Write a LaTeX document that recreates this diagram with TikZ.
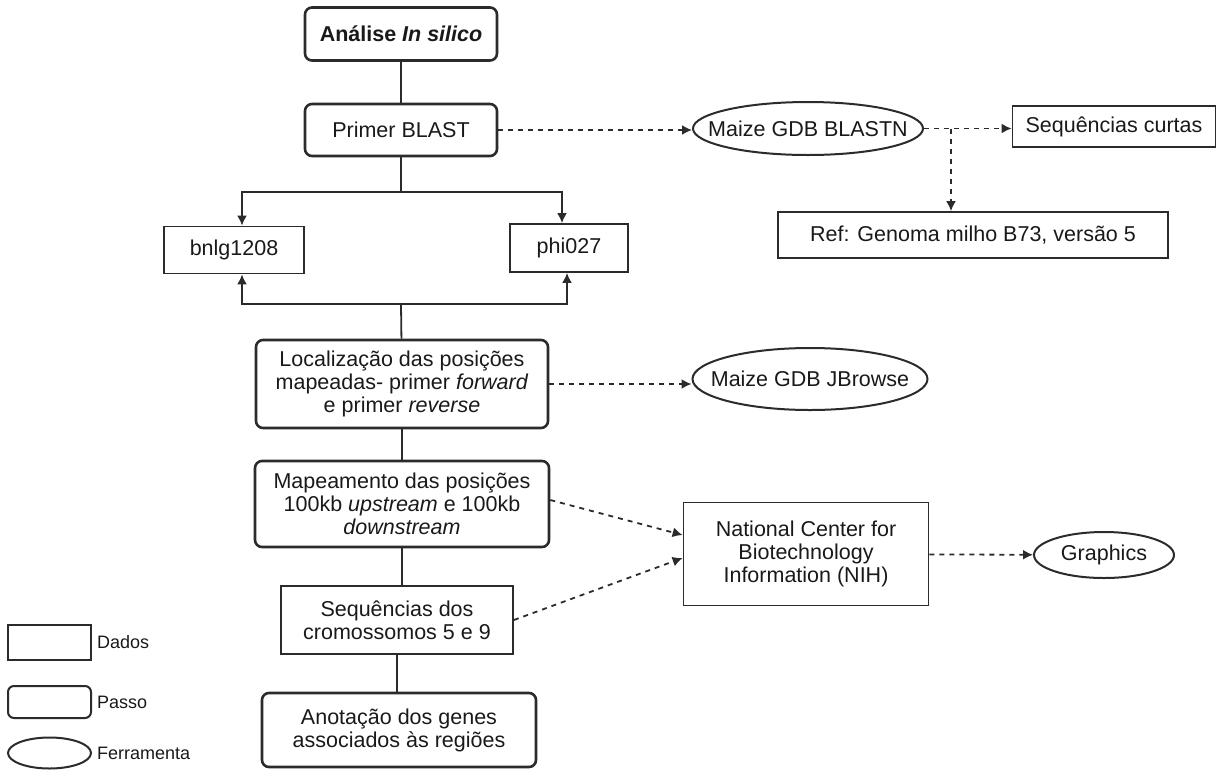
\documentclass[tikz,border=0pt]{standalone}
\usepackage{fontspec}
\setmainfont{Liberation Sans}
\usetikzlibrary{shapes.geometric,arrows.meta}
\definecolor{linha}{HTML}{2B2B2B}
\newcommand{\rotulo}[1]{\makebox[0pt]{#1}}
\tikzset{
  dados/.style={draw=linha, line width=1.8pt, inner sep=0pt, align=center},
  passo/.style={dados, rounded corners=7pt, line width=2.6pt},
  ferramenta/.style={ellipse, draw=linha, line width=2pt, inner sep=0pt, align=center},
  liga/.style={draw=linha, line width=1.8pt},
  seta/.style={liga, -{Latex[length=10pt,width=10pt]}},
  tracejada/.style={seta, dash pattern=on 5pt off 5pt},
  legenda/.style={anchor=west, inner sep=0pt, font=\fontsize{18}{20}\selectfont},
}
\begin{document}
\begin{tikzpicture}[x=1pt,y=-1pt,font=\fontsize{21.5}{23}\selectfont,text=black!90]
\useasboundingbox (0,0) rectangle (1219,769);

\node[passo, minimum width=192pt, minimum height=53pt] (analise) at (401,34) {\textbf{Análise \textit{In silico}}};
\node[passo, minimum width=192pt, minimum height=52pt] (primer) at (401,130) {Primer BLAST};
\node[dados, minimum width=140pt, minimum height=47pt] (bnlg) at (234,250) {bnlg1208};
\node[dados, minimum width=118pt, minimum height=48pt] (phi) at (569,248) {phi027};
\node[passo, minimum width=292pt, minimum height=88pt] (local) at (402,384)
  {Localização das posições\\mapeadas- primer \textit{forward}\\e primer \textit{reverse}};
\node[passo, minimum width=294pt, minimum height=86pt] (mapea) at (402,504)
  {Mapeamento das posições\\100kb \textit{upstream} e 100kb\\\textit{downstream}};
\node[dados, minimum width=232pt, minimum height=68pt] (seqcrom) at (397,620)
  {Sequências dos\\cromossomos 5 e 9};
\node[passo, minimum width=274pt, minimum height=74pt] (anota) at (399,730)
  {Anotação dos genes\\associados às regiões};

% ferramentas e dados externos
\node[ferramenta, minimum width=230pt, minimum height=53pt] (blastn) at (808,128.5) {\rotulo{Maize GDB BLASTN}};
\node[dados, minimum width=203pt, minimum height=41pt] (curtas) at (1114,126.5) {Sequências curtas};
\node[dados, minimum width=390pt, minimum height=46pt] (ref) at (973,235) {Ref: Genoma milho B73, versão 5};
\node[ferramenta, minimum width=235pt, minimum height=62pt] (jbrowse) at (810,379) {\rotulo{Maize GDB JBrowse}};
\node[dados, minimum width=245pt, minimum height=103pt] (ncbi) at (806,554)
  {National Center for\\Biotechnology\\Information (NIH)};
\node[ferramenta, minimum width=140pt, minimum height=46pt] (graphics) at (1104,555) {\rotulo{Graphics}};

\coordinate (divide) at (401,192);
\coordinate (junta) at (401,304);
\coordinate (ramo) at (951,128.5);

\draw[liga] (analise) -- (primer);
\draw[liga] (primer) -- (divide);
\draw[seta] (divide) -| ([xshift=8pt]bnlg.north);
\draw[seta] (divide) -| ([xshift=-7pt]phi.north);
\draw[liga] (local) -- (junta);
\draw[seta] (junta) -| ([xshift=8pt]bnlg.south);
\draw[seta] (junta) -| ([xshift=-2pt]phi.south);
\draw[liga] (local.south) -- (local.south |- mapea.north);
\draw[liga] (mapea.south) -- (mapea.south |- seqcrom.north);
\draw[liga] (seqcrom.south) -- (seqcrom.south |- anota.north);

\draw[tracejada] (primer.east) -- (primer.east -| blastn.west);
\draw[tracejada] (blastn.east) -- (blastn.east -| curtas.west);
\draw[tracejada] (ramo) -- (ramo |- ref.north);
\draw[tracejada] (local.east) -- (local.east -| jbrowse.west);
\draw[tracejada] ([yshift=4pt]mapea.east) -- ([yshift=19pt]ncbi.west);
\draw[tracejada] (seqcrom.east) -- ([yshift=-4pt]ncbi.west);
\draw[tracejada] (ncbi) -- (graphics);

% legenda
\node[dados, minimum width=83pt, minimum height=35pt] (legdados) at (49.5,642.5) {};
\node[passo, line width=2pt, rounded corners=6pt, minimum width=83pt, minimum height=32pt] (legpasso) at (49.5,702) {};
\node[ferramenta, minimum width=83pt, minimum height=31pt] (legferr) at (49.5,753) {};
\node[legenda] (txtdados) at ([xshift=5pt]legdados.east) {Dados};
\node[legenda] (txtpasso) at ([xshift=5pt]legpasso.east) {Passo};
\node[legenda] (txtferr) at ([xshift=5pt]legferr.east) {Ferramenta};
\end{tikzpicture}
\end{document}
